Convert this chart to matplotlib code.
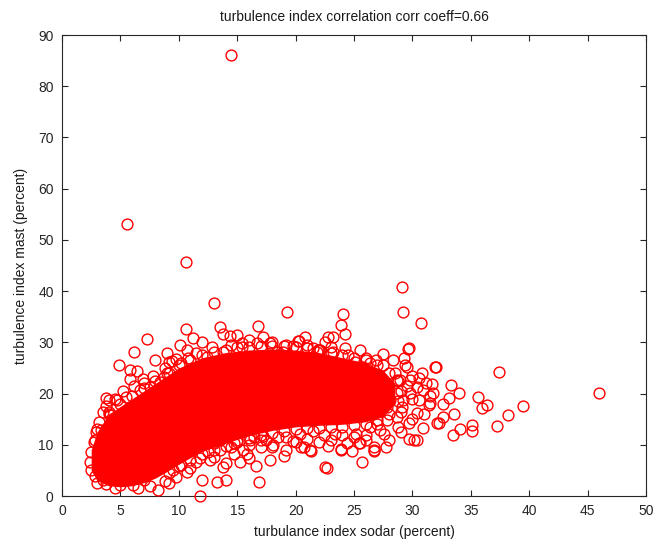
"""
Turbulence index scatter: sodar vs mast (MATLAB-style figure).
"""

import matplotlib
matplotlib.use("Agg")
import matplotlib.pyplot as plt

# dense core of the cloud: envelope (sodar -> mast range)
core_x = [2.5, 3.0, 4.0, 5.0, 6.0, 7.0, 8.0, 9.0, 10.0, 11.0, 12.0, 14.0, 16.0,
          18.0, 20.0, 22.0, 24.0, 26.0, 27.5, 28.5]
core_lo = [5.0, 3.0, 2.0, 1.8, 2.0, 2.6, 3.5, 4.8, 6.2, 7.5, 8.7, 10.3, 11.8,
           12.8, 13.5, 13.8, 14.0, 14.5, 15.5, 18.0]
core_hi = [9.0, 12.5, 16.0, 17.5, 19.0, 20.5, 22.0, 23.5, 25.0, 26.0, 27.0, 28.0,
           28.5, 28.7, 28.5, 28.0, 27.0, 26.0, 24.5, 22.0]

# individual samples visible outside the solid core
outer_sodar = [14.5, 5.6, 10.6, 13.0, 19.3, 24.1, 29.1, 29.2, 30.7, 23.9, 24.2, 23.2,
               20.3, 24.2, 27.5, 29.6, 29.3, 32.0, 37.4, 46.0, 33.3, 34.0, 35.6, 36.4,
               36.0, 39.5, 38.2, 37.2, 35.1, 35.1, 34.1, 33.5, 33.6, 32.6, 33.1, 32.3,
               32.6, 31.8, 31.7, 31.4, 30.9, 30.4, 30.1, 29.7, 30.4, 29.7, 28.8, 27.7,
               26.7, 26.7, 25.7, 22.7, 23.9, 24.4, 25.5, 21.3, 20.5, 19.2, 27.6, 30.8,
               30.6, 30.9, 28.1, 28.7, 29.4, 26.9, 26.4, 25.1, 23.2, 21.5, 21.8, 19.8,
               19.2, 18.9]
outer_mast = [86.1, 53.2, 45.6, 37.6, 36.0, 35.6, 40.9, 35.9, 33.7, 33.3, 31.6, 31.0,
              30.3, 28.9, 27.7, 28.7, 26.9, 25.2, 24.2, 20.2, 21.6, 20.2, 19.3, 17.7,
              17.1, 17.6, 15.8, 13.7, 13.9, 12.6, 13.1, 11.9, 16.0, 17.9, 19.1, 14.2,
              15.5, 20.1, 21.8, 17.8, 13.2, 16.3, 10.9, 11.1, 10.9, 14.2, 13.5, 9.5,
              9.6, 8.7, 6.7, 5.5, 9.1, 10.4, 10.4, 8.8, 9.6, 9.0, 12.2, 24.0,
              23.0, 20.7, 18.7, 22.6, 25.6, 26.6, 25.9, 26.2, 28.2, 28.8, 28.2, 29.2,
              29.5, 28.2]

upper_sodar = [10.6, 11.2, 7.3, 6.2, 4.9, 5.8, 6.4, 5.8, 6.9, 13.5, 13.8, 14.4, 16.8,
               15.4, 15.4, 16.7, 17.8, 20.2, 10.1, 10.7, 9.4, 10.2, 13.8, 12.4, 9.2,
               8.4, 3.8, 3.8, 4.0, 3.3, 2.7, 2.4, 2.5, 3.0, 4.0, 4.1, 2.8, 8.7, 7.5,
               6.7, 5.5, 4.7, 9.2, 22.8, 18.4, 21.9, 22.1]
upper_mast = [32.6, 30.8, 30.7, 28.2, 25.5, 24.6, 24.5, 22.8, 22.8, 33.0, 31.7, 31.2,
              33.1, 29.8, 29.1, 29.8, 29.8, 30.3, 29.5, 28.5, 26.4, 25.9, 28.2, 27.2,
              24.0, 22.3, 19.1, 17.6, 16.1, 12.9, 10.6, 6.7, 5.0, 2.5, 18.7, 15.8,
              10.9, 23.3, 21.3, 20.7, 19.4, 18.7, 26.2, 31.1, 28.2, 28.5, 28.5]

lower_sodar = [11.8, 13.3, 16.9, 14.0, 12.0, 9.8, 8.2, 13.8, 15.2, 16.6, 17.8, 20.7,
               18.1, 17.0, 15.8, 14.7, 12.7, 11.5, 10.7, 9.2, 7.0, 6.1, 5.0, 3.5, 12.1,
               13.2, 11.2, 15.0, 16.4, 9.2, 13.0, 15.5, 19.2, 20.4, 21.5, 22.4, 17.5,
               16.1, 14.7, 13.0, 13.5, 18.0, 17.0, 21.2, 22.5, 23.9, 26.7, 25.4, 23.4,
               32.1, 31.5, 31.9, 31.2, 28.9, 29.5, 29.7, 25.8, 27.8, 28.7, 27.8, 28.7,
               27.8, 27.2, 26.4, 25.2, 29.1, 29.2, 29.8, 30.4, 30.6, 29.8]
lower_mast = [0.0, 2.7, 2.7, 3.2, 3.1, 3.8, 1.2, 5.7, 6.7, 5.9, 7.0, 9.6,
              10.0, 10.9, 8.3, 8.3, 7.0, 6.7, 4.6, 4.4, 3.1, 2.1, 2.2, 3.1, 10.9,
              12.6, 9.6, 10.9, 11.6, 2.5, 7.7, 9.0, 11.6, 12.2, 12.6, 11.9, 10.9,
              10.9, 10.3, 10.3, 10.9, 9.6, 9.6, 9.0, 5.7, 9.0, 9.0, 10.3, 12.2,
              14.2, 18.1, 25.2, 22.0, 22.6, 25.2, 28.8, 25.2, 20.7, 20.1, 17.4, 15.5,
              14.8, 12.9, 13.5, 12.2, 17.4, 18.7, 20.1, 21.3, 18.7, 22.6]

# crowded rim just outside the solid core
rim_sodar = [18.5, 19.8, 21.0, 22.0, 23.0, 24.0, 25.0, 26.0, 27.0, 28.0, 29.0, 30.0,
             29.5, 28.5, 27.5, 26.0, 24.5, 23.0, 21.0, 18.0, 16.0, 14.5, 12.8, 11.5,
             10.8, 9.8, 8.8, 7.8, 7.0, 6.2, 5.2, 4.5, 3.5, 3.2, 2.9, 2.5, 2.8, 3.8,
             4.5, 6.5, 7.5, 8.8, 9.5, 10.2, 11.0, 11.8, 12.5, 13.5, 14.5, 16.0, 17.2,
             14.0, 16.0, 19.0, 20.0, 22.8, 24.8, 26.0, 28.0, 29.0, 30.0, 31.0, 30.0,
             31.5, 28.3, 25.5, 22.5, 20.8, 17.2, 15.0, 12.0, 9.0, 8.0]
rim_mast = [11.5, 10.8, 11.2, 10.5, 11.0, 12.0, 11.5, 12.0, 14.0, 16.0, 16.5, 19.0,
            21.5, 24.0, 25.5, 27.0, 27.5, 29.0, 29.5, 30.0, 30.5, 29.5, 29.0, 28.0,
            27.0, 26.8, 25.0, 23.5, 22.0, 21.5, 20.5, 19.0, 16.5, 14.5, 12.5, 8.5,
            4.0, 2.3, 1.6, 1.5, 1.9, 3.0, 5.0, 6.0, 5.5, 7.5, 8.5, 9.0, 9.5, 10.0,
            11.8, 6.5, 7.5, 7.8, 10.5, 9.8, 8.8, 11.0, 11.0, 12.5, 15.0, 16.0, 23.5,
            19.5, 26.5, 28.5, 30.0, 31.0, 31.0, 31.5, 30.0, 28.0, 26.5]

# samples sitting right on the edge of the core
edge_sodar = [10.0, 11.0, 12.0, 13.0, 14.0, 15.0, 16.0, 17.0, 18.0, 19.0, 20.0, 21.0,
              22.0, 23.0, 24.0, 25.0, 26.0, 27.0,
              10.0, 11.0, 12.0, 13.0, 14.0, 15.0, 16.0, 17.0, 18.0, 19.0, 20.0, 21.0,
              22.0, 23.0, 24.0, 25.0, 26.0, 27.0, 28.0, 28.8, 29.0, 28.8,
              3.0, 4.0, 5.0, 6.0, 7.0, 8.0, 9.0]
edge_mast = [5.8, 7.0, 8.2, 9.0, 9.8, 10.6, 11.3, 11.9, 12.3, 12.7, 13.0, 13.2,
             13.3, 13.4, 13.5, 13.8, 14.0, 14.8,
             25.5, 26.5, 27.5, 28.2, 28.6, 29.0, 29.0, 29.2, 29.3, 29.2, 29.0, 28.8,
             28.5, 28.0, 27.5, 27.0, 26.5, 25.5, 24.0, 22.5, 20.5, 18.5,
             13.0, 16.5, 18.0, 19.5, 21.0, 22.5, 24.0]

xticks = list(range(0, 51, 5))
yticks = list(range(0, 91, 10))

plt.rcParams["font.family"] = ["Liberation Sans", "DejaVu Sans"]

fig = plt.figure(figsize=(6.54, 5.47), dpi=100)
ax = fig.add_axes([0.0948, 0.0932, 0.8930, 0.8428])

red = "#ff0000"

# solid core where thousands of circles overlap
ax.fill_between(core_x, core_lo, core_hi, color=red, linewidth=0, zorder=2)

sodar = outer_sodar + upper_sodar + lower_sodar + rim_sodar + edge_sodar
mast = outer_mast + upper_mast + lower_mast + rim_mast + edge_mast
ax.plot(sodar, mast, linestyle="none", marker="o", markersize=7.8,
        markerfacecolor="none", markeredgecolor=red, markeredgewidth=1.0,
        zorder=3, clip_on=False)

ax.set_xlim(0, 50)
ax.set_ylim(0, 90)
ax.set_xticks(xticks)
ax.set_yticks(yticks)

ax.tick_params(direction="in", length=4, width=0.8, top=True, right=True,
               labelsize=10, colors="#262626", pad=6)
for spine in ax.spines.values():
    spine.set_color("#262626")
    spine.set_linewidth(0.8)

ax.set_title("turbulence index correlation corr coeff=0.66", fontsize=10, pad=10,
             color="#1a1a1a")
ax.set_xlabel("turbulance index sodar (percent)", fontsize=10, labelpad=5,
              color="#1a1a1a")
ax.set_ylabel("turbulence index mast (percent)", fontsize=10, labelpad=7,
              color="#1a1a1a")

plt.savefig("out.png", dpi=100, facecolor="white")
plt.close()
